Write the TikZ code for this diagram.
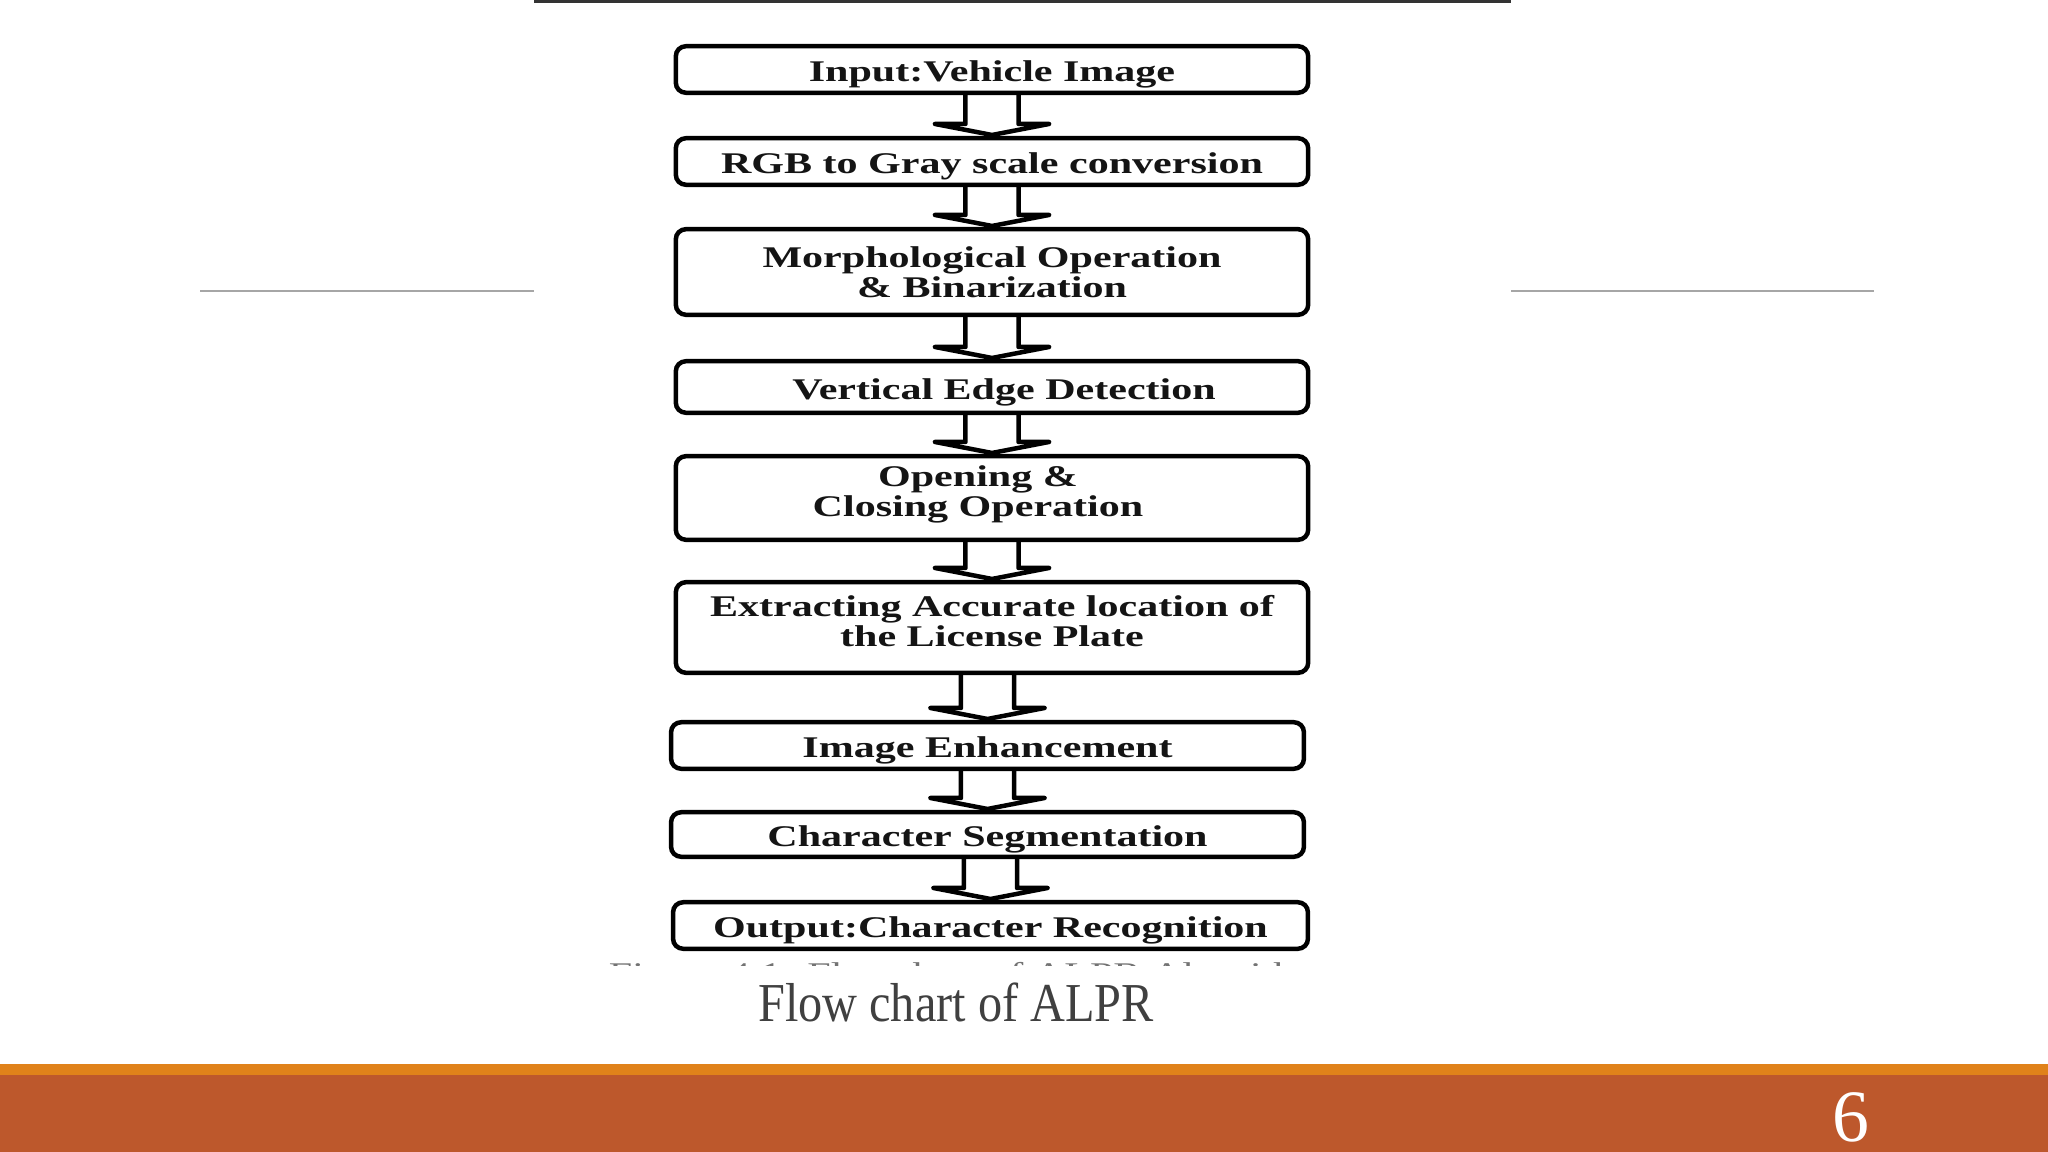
\documentclass[tikz,border=0pt]{standalone}
\usepackage{fontspec}
\setmainfont{Liberation Serif}
\newfontfamily\figfont[FakeStretch=1.4]{Liberation Serif}
\newfontfamily\capfont[FakeStretch=0.88]{Liberation Serif}
\usetikzlibrary{calc}
\definecolor{barbrown}{HTML}{BD582C}
\definecolor{barorange}{HTML}{E0821A}
\definecolor{capgray}{HTML}{404040}
\definecolor{rulegray}{HTML}{A6A6A6}
\newcommand\flowarr[2]{%
  \draw[flowarrow]
    ([xshift=-0.265cm]#2.north |- #1.south) --
    ([xshift=-0.265cm,yshift=0.12cm]#2.north) --
    ([xshift=-0.57cm,yshift=0.12cm]#2.north) --
    ([yshift=0.01cm]#2.north) --
    ([xshift=0.57cm,yshift=0.12cm]#2.north) --
    ([xshift=0.265cm,yshift=0.12cm]#2.north) --
    ([xshift=0.265cm]#2.north |- #1.south);}
\begin{document}
\begin{tikzpicture}[x=0.01cm,y=-0.01cm,
  flowbox/.style={draw=black, line width=0.045cm, rounded corners=0.1cm,
    inner sep=0pt, minimum width=6.32cm, align=center, text=black!92,
    font=\figfont\bfseries\fontsize{8.54pt}{8.54pt}\selectfont},
  oneline/.style={text height=0.245cm, text depth=0cm},
  flowarrow/.style={draw=black, line width=0.045cm, line join=round, line cap=butt}]
\fill[white] (0,0) rectangle (2048,1152);
\useasboundingbox (0,0) rectangle (2048,1152);
% slide template
\draw[rulegray, line width=0.025cm] (200,291) -- (534,291);
\draw[rulegray, line width=0.025cm] (1511,291) -- (1874,291);
\fill[barorange] (0,1064) rectangle (2048,1075);
\fill[barbrown] (0,1075) rectangle (2048,1152);
\node[anchor=base, text=white, inner sep=0pt,
  font=\fontsize{21pt}{21pt}\selectfont] (pagenum) at (1851,1141) {6};
% figure top border
\draw[black!80, line width=0.03cm] (534,1.5) -- (1511,1.5);
% boxes
\node[flowbox, oneline, minimum height=0.465cm] (b1) at (992,69.5) {Input:Vehicle Image};
\node[flowbox, oneline, minimum height=0.465cm] (b2) at (992,161.5) {RGB to Gray scale conversion};
\node[flowbox, minimum height=0.855cm] (b3) at (992,272) {Morphological Operation\\\& Binarization};
\node[flowbox, oneline, minimum height=0.515cm] (b4) at (992,387) {\hspace*{0.24cm}Vertical Edge Detection};
\node[flowbox, minimum height=0.835cm] (b5) at (992,498) {Opening \&\hspace*{0.28cm}\\Closing Operation\hspace*{0.28cm}\rule[-0.145cm]{0pt}{0.1cm}};
\node[flowbox, minimum height=0.905cm] (b6) at (992,627.5) {Extracting Accurate location of\\the License Plate\rule[-0.14cm]{0pt}{0.1cm}};
\node[flowbox, oneline, minimum height=0.465cm, minimum width=6.325cm] (b7) at (987.5,745.5) {Image Enhancement};
\node[flowbox, oneline, minimum height=0.445cm, minimum width=6.325cm] (b8) at (987.5,834.5) {Character Segmentation};
\node[flowbox, oneline, minimum height=0.465cm, minimum width=6.345cm] (b9) at (990.5,925.5) {Output:Character Recognition};
% arrows
\flowarr{b1}{b2}
\flowarr{b2}{b3}
\flowarr{b3}{b4}
\flowarr{b4}{b5}
\flowarr{b5}{b6}
\flowarr{b6}{b7}
\flowarr{b7}{b8}
\flowarr{b8}{b9}
% clipped figure caption of the embedded image
\begin{scope}
  \clip (534,955) rectangle (1511,965);
  \node[anchor=base, inner sep=0pt, text=black!55,
    font=\figfont\fontsize{8.54pt}{8.54pt}\selectfont] (figcap) at (968,983)
    {Figure 4.1: Flowchart of ALPR Algorithm};
\end{scope}
% slide caption
\node[anchor=base, inner sep=0pt, text=capgray,
  font=\capfont\fontsize{15.6pt}{15.6pt}\selectfont] (caption) at (956,1021) {Flow chart of ALPR};
\end{tikzpicture}
\end{document}
